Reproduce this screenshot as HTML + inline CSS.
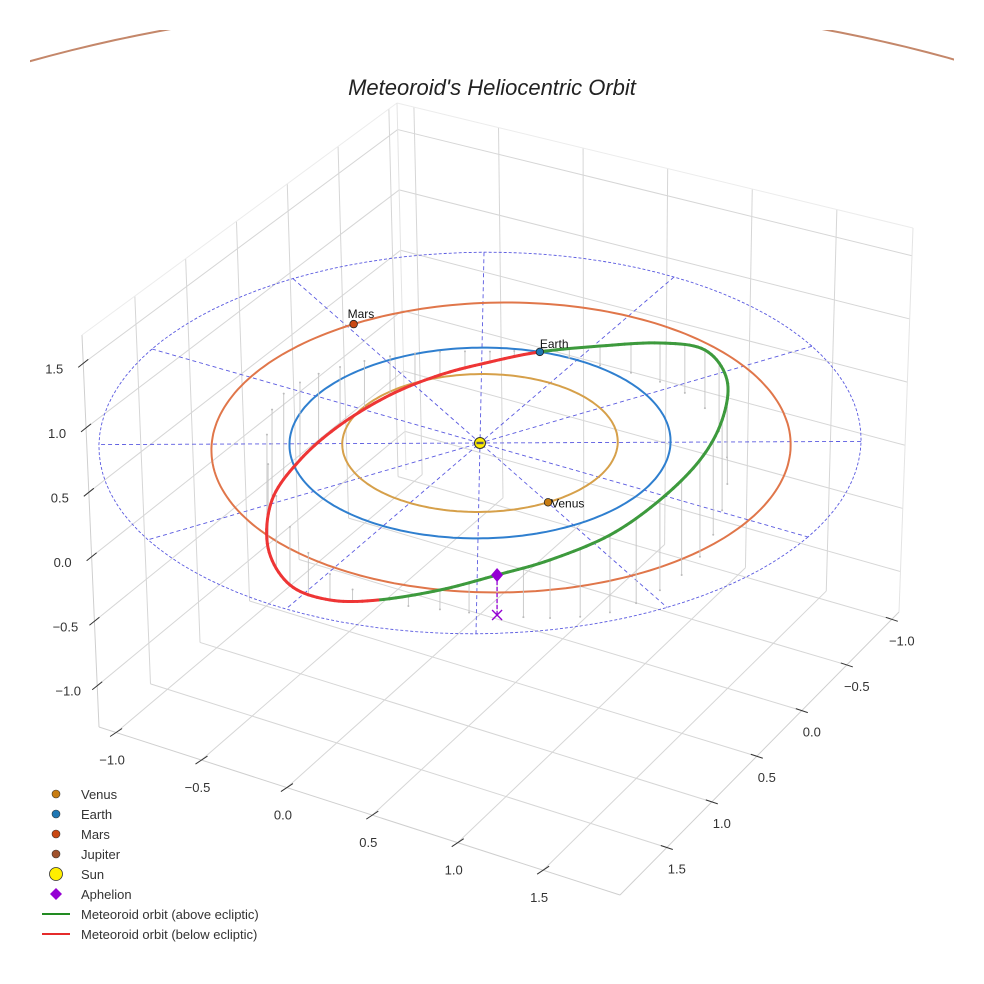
<!DOCTYPE html>
<html><head><meta charset="utf-8"><style>
html,body{margin:0;padding:0;background:#fff;}
svg{display:block;font-family:"Liberation Sans",sans-serif;}
</style></head><body>
<svg id="chart" width="984" height="984" viewBox="0 0 984 984">
<defs><clipPath id="clipj"><rect x="30" y="30" width="924" height="80"/></clipPath></defs>
<rect width="984" height="984" fill="#fff"/>
<text x="492" y="95" text-anchor="middle" font-size="22" font-style="italic" fill="#222">Meteoroid's Heliocentric Orbit</text>
<g id="grid"></g>
<g id="ticks"></g>
<g id="ecl"></g>
<g id="orbits"></g>
<g id="drops"></g>
<g id="met"></g>
<g id="marks"></g>
<g id="legend"></g>
</svg>
<script>
// ---- data ----
const planetNames = ["Venus","Earth","Mars","Jupiter"];
const planetRadii = [0.723, 1.0, 1.52, 5.2];
const planetCenterX = [0, 0, 0.12, 0];
const planetCenterY = [0, 0, -0.014, 0];
const planetAngles = [29.8, 257.7, 208.8, 60];
const orbitColors = ["#d6a04a","#2f7fcf","#e0764a","#c4876a"];
const markerColors = ["#c87d12","#1f77b4","#c94812","#a0522d"];
const orbitX = [-0.213,0.134,0.495,0.841,1.205,1.465,1.612,1.608,1.498,1.254,0.996,0.705,0.372,0.015,-0.420,-0.855,-1.128,-1.145,-1.045,-0.874,-0.670,-0.442];
const orbitY = [-0.977,-1.011,-1.019,-0.897,-0.509,-0.019,0.458,0.864,1.193,1.398,1.508,1.605,1.681,1.572,1.249,0.739,0.237,-0.080,-0.324,-0.550,-0.720,-0.850];
const orbitZ = [0,0.15,0.3,0.45,0.6,0.7,0.75,0.7,0.6,0.45,0.31,0.15,0,-0.2,-0.45,-0.65,-0.7,-0.6,-0.45,-0.3,-0.18,-0.08];
const aphelionIndex = 10;
const xTicks = [-1.0,-0.5,0.0,0.5,1.0,1.5];
const yTicks = [-1.0,-0.5,0.0,0.5,1.0,1.5];
const zTicks = [-1.0,-0.5,0.0,0.5,1.0,1.5];
const xLim = [-1.1,1.95], yLim = [-1.08,2.02], zLim = [-1.32,1.72];
const refRadii = [1,2];
const spokeAngles = [0,30,60,90,120,150];

const NS="http://www.w3.org/2000/svg";
function el(tag, attrs, parent){const e=document.createElementNS(NS,tag);for(const k in attrs)e.setAttribute(k,attrs[k]);parent.appendChild(e);return e;}
const $=id=>document.getElementById(id);

// data projection (sun-centred)
const P=(x,y,z)=>[480+164*x-97*y, 443+47*x+83*y-129*z];
// box corners
const B0=[406,470],R0=[899,612],L0=[99,727],F0=[620,895],B1=[397,103],R1=[913,228],L1=[82,335];
const lerp=(a,b,t)=>[a[0]+(b[0]-a[0])*t,a[1]+(b[1]-a[1])*t];
const tx=v=>(v-xLim[0])/(xLim[1]-xLim[0]), ty=v=>(v-yLim[0])/(yLim[1]-yLim[0]), tz=v=>(v-zLim[0])/(zLim[1]-zLim[0]);
const floorPt=(a,b)=>lerp(lerp(B0,R0,a),lerp(L0,F0,a),b);
const leftPt=(b,c)=>lerp(lerp(B0,L0,b),lerp(B1,L1,b),c);
const rightPt=(a,c)=>lerp(lerp(B0,R0,a),lerp(B1,R1,a),c);

// grid
const g=$("grid");
function gl(p,q,name,col){const l=el("line",{x1:p[0],y1:p[1],x2:q[0],y2:q[1],stroke:col||"#d6d6d6","stroke-width":1},g);

}
xTicks.forEach(v=>{gl(floorPt(tx(v),0),floorPt(tx(v),1),'floor-grid-x');gl(rightPt(tx(v),0),rightPt(tx(v),1),'wall-grid-x');});
yTicks.forEach(v=>{gl(floorPt(0,ty(v)),floorPt(1,ty(v)),'floor-grid-y');gl(leftPt(ty(v),0),leftPt(ty(v),1),'wall-grid-y');});
zTicks.forEach(v=>{gl(leftPt(0,tz(v)),leftPt(1,tz(v)),'wall-grid-z');gl(rightPt(0,tz(v)),rightPt(1,tz(v)),'wall-grid-z');});
gl(L0,F0,'x-axis-line','#cfcfcf');gl(F0,R0,'y-axis-line','#cfcfcf');gl(L0,L1,'z-axis-line','#cfcfcf');
gl(B1,L1,'box-edge','#ececec');gl(B1,R1,'box-edge','#ececec');gl(R0,R1,'box-edge','#e4e4e4');gl(B0,B1,'box-edge','#e4e4e4');

// ticks
const tg=$("ticks");
function tick(p,d,lab,off,name){
 const l=el("line",{x1:p[0]-d[0],y1:p[1]-d[1],x2:p[0]+d[0],y2:p[1]+d[1],stroke:"#333","stroke-width":1},tg);
 
 
 const t=el("text",{x:p[0]+off[0],y:p[1]+off[1]+5,"text-anchor":"middle","font-size":13,fill:"#333"},tg);
 t.textContent=lab.toFixed(1).replace('-','\u2212');
 
 }
xTicks.forEach(v=>tick(floorPt(tx(v),1),[6,-4],v,[-4,27],'x-tick'));
yTicks.forEach(v=>tick(floorPt(1,ty(v)),[6,2],v,[10,21],'y-tick'));
zTicks.forEach(v=>tick(lerp(L0,L1,tz(v)),[5,-4],v,[-29,5],'z-tick'));

// ecliptic reference
const eg=$("ecl");
refRadii.forEach(r=>{let d="";for(let i=0;i<=120;i++){const a=i/120*2*Math.PI;const p=P(r*Math.cos(a),r*Math.sin(a),0);d+=(i?"L":"M")+p[0].toFixed(1)+","+p[1].toFixed(1);}
 const e=el("path",{d:d,fill:"none",stroke:"#5a5ae0","stroke-width":0.9,"stroke-dasharray":"3,2"},eg);
 
 });
spokeAngles.forEach(a=>{const c=Math.cos(a*Math.PI/180),s=Math.sin(a*Math.PI/180);const p=P(-2*c,-2*s,0),q=P(2*c,2*s,0);
 const e=el("line",{x1:p[0],y1:p[1],x2:q[0],y2:q[1],stroke:"#5a5ae0","stroke-width":0.9,"stroke-dasharray":"4,3"},eg);
 
 });

// planet orbits
const og=$("orbits");
planetRadii.forEach((r,i)=>{const rr=i===3?r*0.927:r;let d="";for(let k=0;k<=240;k++){const a=k/240*2*Math.PI;let p=P(planetCenterX[i]+rr*Math.cos(a),planetCenterY[i]+rr*Math.sin(a),0);
 if(i===3)p=[p[0],443+(p[1]-443)*0.963];
 d+=(k?"L":"M")+p[0].toFixed(1)+","+p[1].toFixed(1);}
 const e=el("path",{d:d,fill:"none",stroke:orbitColors[i],"stroke-width":2},og);
 if(i===3)e.setAttribute("clip-path","url(#clipj)");
 
 });

// meteoroid orbit (closed Catmull-Rom)
const n=orbitX.length, S=10, pts=[];
for(let i=0;i<n;i++){const i0=(i-1+n)%n,i2=(i+1)%n,i3=(i+2)%n;
 for(let s=0;s<S;s++){const t=s/S,t2=t*t,t3=t2*t;
  const f=(a)=>0.5*((2*a[i])+(-a[i0]+a[i2])*t+(2*a[i0]-5*a[i]+4*a[i2]-a[i3])*t2+(-a[i0]+3*a[i]-3*a[i2]+a[i3])*t3);
  pts.push([f(orbitX),f(orbitY),f(orbitZ)]);}}
const dg=$("drops");
pts.forEach((p,k)=>{if(k%5)return;const a=P(p[0],p[1],p[2]),b=P(p[0],p[1],0);
 const e=el("line",{x1:a[0],y1:a[1],x2:b[0],y2:b[1],stroke:"#c4c4c4","stroke-width":0.9},dg);
 
 
 const c=el("circle",{cx:b[0],cy:b[1],r:1,fill:"#bbb"},dg);
 
 });
const mg=$("met");
for(let k=0;k<pts.length;k++){const p=pts[k],q=pts[(k+1)%pts.length];const a=P(...p),b=P(...q);
 const up=(p[2]+q[2])/2>=0;
 const e=el("line",{x1:a[0],y1:a[1],x2:b[0],y2:b[1],stroke:up?"#3d9a3d":"#ee3535","stroke-width":3,"stroke-linecap":"round"},mg);
 
 }

// markers
const kg=$("marks");
const ax=orbitX[aphelionIndex],ay=orbitY[aphelionIndex],az=orbitZ[aphelionIndex];
const A=P(ax,ay,az),A0=P(ax,ay,0);
let e=el("line",{x1:A[0],y1:A[1],x2:A0[0],y2:A0[1],stroke:"#9400d3","stroke-width":1.3,"stroke-dasharray":"4,2"},kg);


e=el("path",{d:`M${A0[0]-5},${A0[1]-5}L${A0[0]+5},${A0[1]+5}M${A0[0]-5},${A0[1]+5}L${A0[0]+5},${A0[1]-5}`,stroke:"#9400d3","stroke-width":1.4},kg);


e=el("path",{d:`M${A[0]},${A[1]-7}L${A[0]+6},${A[1]}L${A[0]},${A[1]+7}L${A[0]-6},${A[1]}Z`,fill:"#9400d3"},kg);


const S0=P(0,0,0);
e=el("circle",{cx:S0[0],cy:S0[1],r:5.5,fill:"#ffee00",stroke:"#333","stroke-width":1},kg);


e=el("rect",{x:S0[0]-3.5,y:S0[1]-1.2,width:7,height:2.4,fill:"#556"},kg);


const labOff=[[3,5],[0,-4],[-6,-6]];
[0,1,2].forEach(i=>{const a=planetAngles[i]*Math.PI/180,r=planetRadii[i];const p=P(planetCenterX[i]+r*Math.cos(a),planetCenterY[i]+r*Math.sin(a),0);
 const c=el("circle",{cx:p[0],cy:p[1],r:3.8,fill:markerColors[i],stroke:"#222","stroke-width":0.8},kg);
 
 
 const t=el("text",{x:p[0]+labOff[i][0],y:p[1]+labOff[i][1],"font-size":12,fill:"#111"},kg);
 t.textContent=planetNames[i];
 
 });

// legend
const lg=$("legend");
const legendLabels=["Venus","Earth","Mars","Jupiter","Sun","Aphelion","Meteoroid orbit (above ecliptic)","Meteoroid orbit (below ecliptic)"];
legendLabels.forEach((lab,i)=>{const y=794+i*20;let m;
 if(i<4)m=el("circle",{cx:56,cy:y,r:4,fill:markerColors[i],stroke:"#333","stroke-width":0.6},lg);
 else if(i===4)m=el("circle",{cx:56,cy:y,r:6.5,fill:"#ffee00",stroke:"#333","stroke-width":0.8},lg);
 else if(i===5)m=el("path",{d:`M56,${y-6}L62,${y}L56,${y+6}L50,${y}Z`,fill:"#9400d3"},lg);
 else m=el("line",{x1:42,y1:y,x2:70,y2:y,stroke:i===6?"#228b22":"#e52b2b","stroke-width":2},lg);
 
 
 const t=el("text",{x:81,y:y+5,"font-size":13,fill:"#333"},lg);
 t.textContent=lab;
 
 });
</script>
</body></html>
